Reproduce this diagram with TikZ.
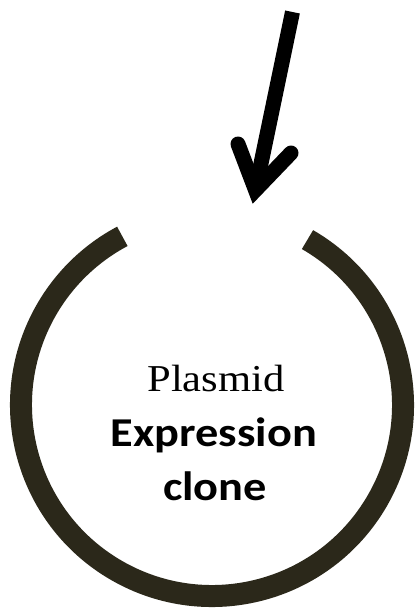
\documentclass[tikz,border=0pt]{standalone}
\usepackage{fontspec}
\setmainfont{Liberation Serif}
\newfontfamily\labelserif[FakeStretch=1.12]{Liberation Serif}
\newfontfamily\labelsans[FakeStretch=1.13]{Carlito}
\definecolor{ringcol}{RGB}{43,40,26}
\begin{document}
\begin{tikzpicture}[x=1pt,y=-1pt,
  ring/.style={draw=ringcol,line width=22pt,line cap=butt},
  pointer/.style={draw=black,line width=15pt},
  lbl/.style={inner sep=0pt,anchor=base}]
\useasboundingbox (0,0) rectangle (418,608);
% plasmid ring, open at the top (y axis points down here)
\coordinate (c) at (212,405);
\draw[ring] ([shift={(-60:191)}]c) arc[start angle=-60,end angle=242,radius=191];
% arrow pointing into the gap
\coordinate (shafttop) at (292.5,12);
\coordinate (tip) at (255.5,190);
\coordinate (barbL) at (238,144);
\coordinate (barbR) at (291,153);
\draw[pointer,line cap=butt] (shafttop) -- (tip);
\draw[pointer,line cap=round,line join=miter,miter limit=10] (barbL) -- (tip) -- (barbR);
% labels
\node[lbl] (plasmid) at (216,391) {\fontsize{38}{38}\selectfont\labelserif Plasmid};
\node[lbl] (expr) at (214,446) {\fontsize{41}{41}\selectfont\labelsans\bfseries Expression};
\node[lbl] (clone) at (215,500) {\fontsize{41}{41}\selectfont\labelsans\bfseries clone};
\end{tikzpicture}
\end{document}
